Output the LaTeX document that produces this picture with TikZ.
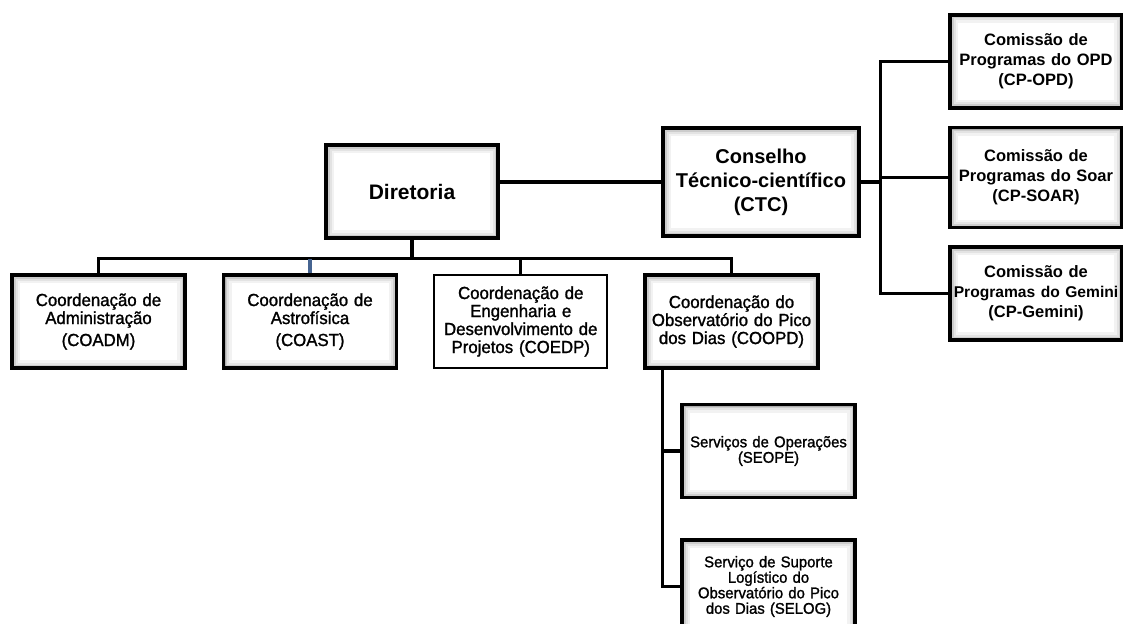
\documentclass[tikz,border=0pt]{standalone}
\usepackage{fontspec}
\setmainfont{Liberation Sans}
\newfontfamily\unitfont[FakeStretch=0.96,FakeBold=1.3]{Liberation Sans}
\usepackage{xcolor}
\usetikzlibrary{positioning}
\definecolor{droplink}{RGB}{70,100,145}

\tikzset{glow/.style={path picture={
    \draw[black!5, line width=16pt] (path picture bounding box.south west) rectangle (path picture bounding box.north east);
    \draw[black!11, line width=11pt] (path picture bounding box.south west) rectangle (path picture bounding box.north east);
    \draw[black!20, line width=7pt] (path picture bounding box.south west) rectangle (path picture bounding box.north east);
    \draw[black!32, line width=4pt] (path picture bounding box.south west) rectangle (path picture bounding box.north east);
}}}

\begin{document}
\begin{tikzpicture}[
    x=1pt, y=-1pt,
    node distance=35pt,
    head/.style={rectangle, draw, line width=3.5pt, fill=white, glow, minimum width=172pt, minimum height=93pt, align=center, font=\bfseries\fontsize{21}{25}\selectfont},
    unit/.style={rectangle, draw, line width=3.5pt, fill=white, glow, text width=168pt, inner xsep=2.5pt, minimum height=93pt, align=center, font=\unitfont\fontsize{17.5}{18}\selectfont},
    plainunit/.style={unit, line width=2pt, path picture={}},
    commission/.style={rectangle, draw, line width=3.5pt, fill=white, glow, text width=166pt, inner xsep=3pt, minimum height=93pt, align=center, font=\bfseries\fontsize{16.5}{20}\selectfont},
    service/.style={rectangle, draw, line width=3.5pt, fill=white, glow, text width=168pt, inner xsep=2.5pt, minimum height=93pt, align=center, font=\unitfont\fontsize{15.5}{15.5}\selectfont},
    link/.style={line width=3.2pt}
]
\useasboundingbox (0,0) rectangle (1123,623);
\clip (0,0) rectangle (1123,623);

% top level
\node[head] (dir) at (412,191.5) {Diretoria};
\node[head, minimum width=196pt, minimum height=108pt, font=\bfseries\fontsize{20}{24}\selectfont] (ctc) at (761,182) {Conselho\\Técnico-científico\\(CTC)};

% coordinations
\node[unit] (coadm) at (98.5,321.5) {Coordenação de\\Administração\\[4pt](COADM)};
\node[unit, right=of coadm] (coast) {Coordenação de\\Astrofísica\\[4pt](COAST)};
\node[plainunit, right=of coast] (coedp) {Coordenação de\\Engenharia e\\Desenvolvimento de\\Projetos (COEDP)};
\node[unit, right=of coedp] (coopd) {Coordenação do\\Observatório do Pico\\dos Dias (COOPD)};

% commissions
\node[commission] (cpopd) at (1036,61.5) {Comissão de\\Programas do OPD\\(CP-OPD)};
\node[commission, below=16pt of cpopd, minimum height=100pt] (cpsoar) {Comissão de\\Programas do Soar\\(CP-SOAR)};
\node[commission, below=16pt of cpsoar] (cpgem) {Comissão de\\{\fontsize{15.6}{20}\selectfont Programas do Gemini}\\(CP-Gemini)};

% services
\node[service] (seope) at (768.5,451) {Serviços de Operações\\(SEOPE)};
\node[service, below=39pt of seope] (selog) {Serviço de Suporte\\Logístico do\\Observatório do Pico\\dos Dias (SELOG)};

% connectors
\draw[link] (ctc.west) -- (ctc.west -| dir.east);
\coordinate[below=19pt of dir] (bus);
\draw[link] (dir.south) -- (bus);
\draw[link] (coadm.north) |- (bus) -| (coopd.north);
\draw[link, droplink] (coast.north) -- (coast.north |- bus);
\draw[link] (coedp.north) -- (coedp.north |- bus);
\coordinate[right=20pt of ctc] (hub);
\draw[link] (ctc.east) -- (hub);
\draw[link] (cpopd.west) -| (hub) |- (cpgem.west);
\draw[link] (cpsoar.west) -- (cpsoar.west -| hub);
\coordinate[right=19pt of coopd.south west] (stem);
\draw[link] (stem) |- (seope.west);
\draw[link] (stem) |- (selog.west);

\end{tikzpicture}
\end{document}
